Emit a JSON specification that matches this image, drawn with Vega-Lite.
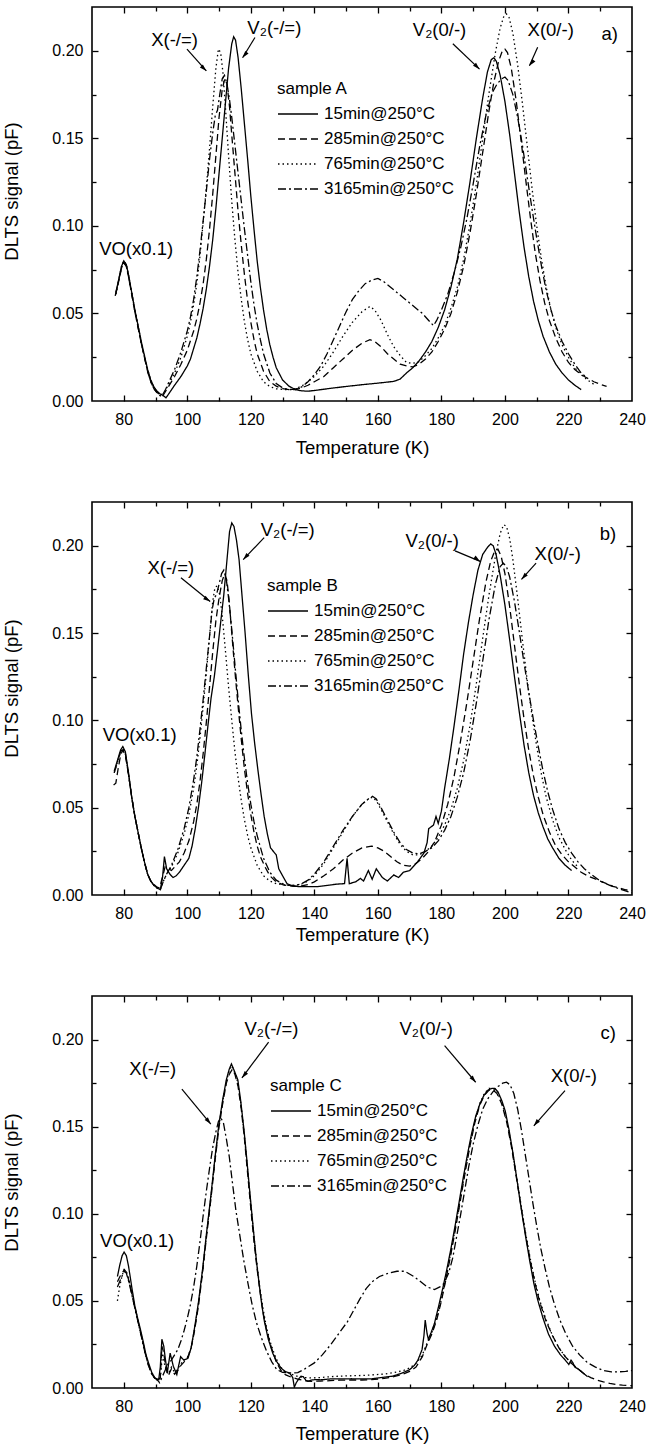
{
"$schema":"https://vega.github.io/schema/vega-lite/v6.json",
"padding":{"left":1,"top":5,"right":0,"bottom":0},
"background":"white",
"bounds":"flush",
"spacing":101,
"datasets":{
"A":[
{"s":"15min@250°C","T":77.5,"S":0.062},{"s":"15min@250°C","T":78.5,"S":0.070},{"s":"15min@250°C","T":79.3,"S":0.077},{"s":"15min@250°C","T":80,"S":0.080},{"s":"15min@250°C","T":80.8,"S":0.078},{"s":"15min@250°C","T":81.5,"S":0.072},{"s":"15min@250°C","T":82.5,"S":0.062},{"s":"15min@250°C","T":83.5,"S":0.052},{"s":"15min@250°C","T":84.5,"S":0.043},{"s":"15min@250°C","T":85.5,"S":0.034},{"s":"15min@250°C","T":86.5,"S":0.026},{"s":"15min@250°C","T":87.5,"S":0.018},{"s":"15min@250°C","T":88.5,"S":0.012},{"s":"15min@250°C","T":89.5,"S":0.008},{"s":"15min@250°C","T":90.5,"S":0.0055},{"s":"15min@250°C","T":91.5,"S":0.004},{"s":"15min@250°C","T":92.5,"S":0.003},{"s":"15min@250°C","T":93.3,"S":0.0018},{"s":"15min@250°C","T":94.5,"S":0.005},{"s":"15min@250°C","T":96,"S":0.009},{"s":"15min@250°C","T":98,"S":0.014},{"s":"15min@250°C","T":100,"S":0.020},{"s":"15min@250°C","T":101,"S":0.024},{"s":"15min@250°C","T":102,"S":0.030},{"s":"15min@250°C","T":103,"S":0.036},{"s":"15min@250°C","T":104,"S":0.044},{"s":"15min@250°C","T":105,"S":0.053},{"s":"15min@250°C","T":106,"S":0.064},{"s":"15min@250°C","T":107,"S":0.077},{"s":"15min@250°C","T":108,"S":0.092},{"s":"15min@250°C","T":109,"S":0.110},{"s":"15min@250°C","T":110,"S":0.130},{"s":"15min@250°C","T":111,"S":0.150},{"s":"15min@250°C","T":112,"S":0.170},{"s":"15min@250°C","T":113,"S":0.190},{"s":"15min@250°C","T":114,"S":0.204},{"s":"15min@250°C","T":114.6,"S":0.208},{"s":"15min@250°C","T":115.2,"S":0.206},{"s":"15min@250°C","T":116,"S":0.196},{"s":"15min@250°C","T":117,"S":0.178},{"s":"15min@250°C","T":118,"S":0.158},{"s":"15min@250°C","T":119,"S":0.138},{"s":"15min@250°C","T":120,"S":0.117},{"s":"15min@250°C","T":121,"S":0.098},{"s":"15min@250°C","T":122,"S":0.080},{"s":"15min@250°C","T":123,"S":0.065},{"s":"15min@250°C","T":124,"S":0.052},{"s":"15min@250°C","T":125,"S":0.041},{"s":"15min@250°C","T":126,"S":0.032},{"s":"15min@250°C","T":127,"S":0.025},{"s":"15min@250°C","T":128,"S":0.019},{"s":"15min@250°C","T":130,"S":0.012},{"s":"15min@250°C","T":132,"S":0.0085},{"s":"15min@250°C","T":134,"S":0.0065},{"s":"15min@250°C","T":136,"S":0.0058},{"s":"15min@250°C","T":138,"S":0.0056},{"s":"15min@250°C","T":140,"S":0.006},{"s":"15min@250°C","T":145,"S":0.0072},{"s":"15min@250°C","T":150,"S":0.0083},{"s":"15min@250°C","T":155,"S":0.0093},{"s":"15min@250°C","T":160,"S":0.0102},{"s":"15min@250°C","T":165,"S":0.0112},{"s":"15min@250°C","T":167,"S":0.0125},{"s":"15min@250°C","T":169,"S":0.016},{"s":"15min@250°C","T":171,"S":0.019},{"s":"15min@250°C","T":173,"S":0.023},{"s":"15min@250°C","T":175,"S":0.028},{"s":"15min@250°C","T":177,"S":0.034},{"s":"15min@250°C","T":179,"S":0.042},{"s":"15min@250°C","T":181,"S":0.052},{"s":"15min@250°C","T":183,"S":0.065},{"s":"15min@250°C","T":185,"S":0.081},{"s":"15min@250°C","T":187,"S":0.102},{"s":"15min@250°C","T":189,"S":0.125},{"s":"15min@250°C","T":191,"S":0.150},{"s":"15min@250°C","T":193,"S":0.173},{"s":"15min@250°C","T":194.5,"S":0.188},{"s":"15min@250°C","T":195.7,"S":0.195},{"s":"15min@250°C","T":196.5,"S":0.196},{"s":"15min@250°C","T":197.3,"S":0.194},{"s":"15min@250°C","T":198.5,"S":0.186},{"s":"15min@250°C","T":200,"S":0.171},{"s":"15min@250°C","T":201.5,"S":0.152},{"s":"15min@250°C","T":203,"S":0.130},{"s":"15min@250°C","T":204.5,"S":0.108},{"s":"15min@250°C","T":206,"S":0.088},{"s":"15min@250°C","T":207.5,"S":0.071},{"s":"15min@250°C","T":209,"S":0.057},{"s":"15min@250°C","T":210.5,"S":0.046},{"s":"15min@250°C","T":212,"S":0.037},{"s":"15min@250°C","T":214,"S":0.028},{"s":"15min@250°C","T":216,"S":0.021},{"s":"15min@250°C","T":218,"S":0.016},{"s":"15min@250°C","T":220,"S":0.012},{"s":"15min@250°C","T":222,"S":0.009},{"s":"15min@250°C","T":224,"S":0.0065},
{"s":"285min@250°C","T":77.3,"S":0.060},{"s":"285min@250°C","T":78.5,"S":0.069},{"s":"285min@250°C","T":79.3,"S":0.076},{"s":"285min@250°C","T":80,"S":0.079},{"s":"285min@250°C","T":80.8,"S":0.077},{"s":"285min@250°C","T":81.5,"S":0.071},{"s":"285min@250°C","T":82.5,"S":0.061},{"s":"285min@250°C","T":83.5,"S":0.051},{"s":"285min@250°C","T":84.5,"S":0.042},{"s":"285min@250°C","T":85.5,"S":0.033},{"s":"285min@250°C","T":86.5,"S":0.025},{"s":"285min@250°C","T":87.5,"S":0.017},{"s":"285min@250°C","T":88.5,"S":0.011},{"s":"285min@250°C","T":89.5,"S":0.007},{"s":"285min@250°C","T":90.5,"S":0.0048},{"s":"285min@250°C","T":91.5,"S":0.0035},{"s":"285min@250°C","T":92.3,"S":0.003},{"s":"285min@250°C","T":93,"S":0.005},{"s":"285min@250°C","T":94,"S":0.008},{"s":"285min@250°C","T":96,"S":0.014},{"s":"285min@250°C","T":98,"S":0.021},{"s":"285min@250°C","T":100,"S":0.029},{"s":"285min@250°C","T":102,"S":0.040},{"s":"285min@250°C","T":103,"S":0.047},{"s":"285min@250°C","T":104,"S":0.056},{"s":"285min@250°C","T":105,"S":0.067},{"s":"285min@250°C","T":106,"S":0.081},{"s":"285min@250°C","T":107,"S":0.098},{"s":"285min@250°C","T":108,"S":0.118},{"s":"285min@250°C","T":109,"S":0.140},{"s":"285min@250°C","T":110,"S":0.162},{"s":"285min@250°C","T":111,"S":0.178},{"s":"285min@250°C","T":111.8,"S":0.184},{"s":"285min@250°C","T":112.5,"S":0.181},{"s":"285min@250°C","T":113.3,"S":0.168},{"s":"285min@250°C","T":114,"S":0.152},{"s":"285min@250°C","T":115,"S":0.130},{"s":"285min@250°C","T":116,"S":0.108},{"s":"285min@250°C","T":117,"S":0.089},{"s":"285min@250°C","T":118,"S":0.072},{"s":"285min@250°C","T":119,"S":0.057},{"s":"285min@250°C","T":120,"S":0.045},{"s":"285min@250°C","T":121,"S":0.035},{"s":"285min@250°C","T":122,"S":0.027},{"s":"285min@250°C","T":124,"S":0.017},{"s":"285min@250°C","T":126,"S":0.011},{"s":"285min@250°C","T":128,"S":0.0085},{"s":"285min@250°C","T":130,"S":0.007},{"s":"285min@250°C","T":132,"S":0.0065},{"s":"285min@250°C","T":134,"S":0.0065},{"s":"285min@250°C","T":136,"S":0.0075},{"s":"285min@250°C","T":138,"S":0.009},{"s":"285min@250°C","T":140,"S":0.011},{"s":"285min@250°C","T":143,"S":0.014},{"s":"285min@250°C","T":146,"S":0.019},{"s":"285min@250°C","T":149,"S":0.024},{"s":"285min@250°C","T":152,"S":0.029},{"s":"285min@250°C","T":155,"S":0.033},{"s":"285min@250°C","T":157.5,"S":0.035},{"s":"285min@250°C","T":159,"S":0.034},{"s":"285min@250°C","T":161,"S":0.031},{"s":"285min@250°C","T":163,"S":0.027},{"s":"285min@250°C","T":165,"S":0.024},{"s":"285min@250°C","T":167,"S":0.021},{"s":"285min@250°C","T":169,"S":0.020},{"s":"285min@250°C","T":171,"S":0.0195},{"s":"285min@250°C","T":173,"S":0.021},{"s":"285min@250°C","T":175,"S":0.024},{"s":"285min@250°C","T":177,"S":0.028},{"s":"285min@250°C","T":179,"S":0.034},{"s":"285min@250°C","T":181,"S":0.041},{"s":"285min@250°C","T":183,"S":0.050},{"s":"285min@250°C","T":185,"S":0.062},{"s":"285min@250°C","T":187,"S":0.077},{"s":"285min@250°C","T":189,"S":0.096},{"s":"285min@250°C","T":191,"S":0.118},{"s":"285min@250°C","T":193,"S":0.142},{"s":"285min@250°C","T":195,"S":0.166},{"s":"285min@250°C","T":196.5,"S":0.182},{"s":"285min@250°C","T":198,"S":0.194},{"s":"285min@250°C","T":199.2,"S":0.200},{"s":"285min@250°C","T":200,"S":0.201},{"s":"285min@250°C","T":200.8,"S":0.199},{"s":"285min@250°C","T":202,"S":0.190},{"s":"285min@250°C","T":203.5,"S":0.172},{"s":"285min@250°C","T":205,"S":0.150},{"s":"285min@250°C","T":206.5,"S":0.127},{"s":"285min@250°C","T":208,"S":0.105},{"s":"285min@250°C","T":209.5,"S":0.085},{"s":"285min@250°C","T":211,"S":0.069},{"s":"285min@250°C","T":212.5,"S":0.056},{"s":"285min@250°C","T":214,"S":0.046},{"s":"285min@250°C","T":216,"S":0.036},{"s":"285min@250°C","T":218,"S":0.028},{"s":"285min@250°C","T":220,"S":0.022},{"s":"285min@250°C","T":222,"S":0.018},{"s":"285min@250°C","T":224,"S":0.015},{"s":"285min@250°C","T":226,"S":0.013},{"s":"285min@250°C","T":228,"S":0.011},{"s":"285min@250°C","T":230,"S":0.0095},{"s":"285min@250°C","T":232,"S":0.0083},
{"s":"765min@250°C","T":77.5,"S":0.061},{"s":"765min@250°C","T":78.5,"S":0.070},{"s":"765min@250°C","T":79.3,"S":0.077},{"s":"765min@250°C","T":80,"S":0.080},{"s":"765min@250°C","T":80.8,"S":0.078},{"s":"765min@250°C","T":81.5,"S":0.072},{"s":"765min@250°C","T":82.5,"S":0.062},{"s":"765min@250°C","T":83.5,"S":0.052},{"s":"765min@250°C","T":84.5,"S":0.043},{"s":"765min@250°C","T":85.5,"S":0.034},{"s":"765min@250°C","T":86.5,"S":0.026},{"s":"765min@250°C","T":87.5,"S":0.018},{"s":"765min@250°C","T":88.5,"S":0.012},{"s":"765min@250°C","T":89.5,"S":0.008},{"s":"765min@250°C","T":90.5,"S":0.0055},{"s":"765min@250°C","T":91.5,"S":0.0035},{"s":"765min@250°C","T":92.3,"S":0.004},{"s":"765min@250°C","T":93,"S":0.006},{"s":"765min@250°C","T":94,"S":0.009},{"s":"765min@250°C","T":96,"S":0.016},{"s":"765min@250°C","T":98,"S":0.025},{"s":"765min@250°C","T":100,"S":0.037},{"s":"765min@250°C","T":101,"S":0.045},{"s":"765min@250°C","T":102,"S":0.055},{"s":"765min@250°C","T":103,"S":0.067},{"s":"765min@250°C","T":104,"S":0.083},{"s":"765min@250°C","T":105,"S":0.102},{"s":"765min@250°C","T":106,"S":0.122},{"s":"765min@250°C","T":107,"S":0.144},{"s":"765min@250°C","T":108,"S":0.168},{"s":"765min@250°C","T":109,"S":0.190},{"s":"765min@250°C","T":109.8,"S":0.201},{"s":"765min@250°C","T":110.5,"S":0.199},{"s":"765min@250°C","T":111.2,"S":0.188},{"s":"765min@250°C","T":112,"S":0.168},{"s":"765min@250°C","T":113,"S":0.140},{"s":"765min@250°C","T":114,"S":0.114},{"s":"765min@250°C","T":115,"S":0.092},{"s":"765min@250°C","T":116,"S":0.073},{"s":"765min@250°C","T":117,"S":0.058},{"s":"765min@250°C","T":118,"S":0.045},{"s":"765min@250°C","T":119,"S":0.035},{"s":"765min@250°C","T":120,"S":0.027},{"s":"765min@250°C","T":122,"S":0.017},{"s":"765min@250°C","T":124,"S":0.011},{"s":"765min@250°C","T":126,"S":0.0082},{"s":"765min@250°C","T":128,"S":0.007},{"s":"765min@250°C","T":130,"S":0.0066},{"s":"765min@250°C","T":132,"S":0.0065},{"s":"765min@250°C","T":134,"S":0.007},{"s":"765min@250°C","T":136,"S":0.0085},{"s":"765min@250°C","T":138,"S":0.011},{"s":"765min@250°C","T":140,"S":0.014},{"s":"765min@250°C","T":143,"S":0.020},{"s":"765min@250°C","T":146,"S":0.028},{"s":"765min@250°C","T":149,"S":0.037},{"s":"765min@250°C","T":152,"S":0.045},{"s":"765min@250°C","T":155,"S":0.051},{"s":"765min@250°C","T":157.5,"S":0.054},{"s":"765min@250°C","T":159,"S":0.052},{"s":"765min@250°C","T":161,"S":0.046},{"s":"765min@250°C","T":163,"S":0.038},{"s":"765min@250°C","T":165,"S":0.031},{"s":"765min@250°C","T":167,"S":0.026},{"s":"765min@250°C","T":169,"S":0.022},{"s":"765min@250°C","T":171,"S":0.0215},{"s":"765min@250°C","T":173,"S":0.0225},{"s":"765min@250°C","T":175,"S":0.026},{"s":"765min@250°C","T":177,"S":0.030},{"s":"765min@250°C","T":179,"S":0.036},{"s":"765min@250°C","T":181,"S":0.043},{"s":"765min@250°C","T":183,"S":0.053},{"s":"765min@250°C","T":185,"S":0.065},{"s":"765min@250°C","T":187,"S":0.081},{"s":"765min@250°C","T":189,"S":0.101},{"s":"765min@250°C","T":191,"S":0.124},{"s":"765min@250°C","T":193,"S":0.150},{"s":"765min@250°C","T":195,"S":0.176},{"s":"765min@250°C","T":197,"S":0.199},{"s":"765min@250°C","T":198.5,"S":0.213},{"s":"765min@250°C","T":199.7,"S":0.220},{"s":"765min@250°C","T":200.5,"S":0.221},{"s":"765min@250°C","T":201.3,"S":0.219},{"s":"765min@250°C","T":202.5,"S":0.210},{"s":"765min@250°C","T":204,"S":0.192},{"s":"765min@250°C","T":205.5,"S":0.170},{"s":"765min@250°C","T":207,"S":0.146},{"s":"765min@250°C","T":208.5,"S":0.122},{"s":"765min@250°C","T":210,"S":0.100},{"s":"765min@250°C","T":211.5,"S":0.081},{"s":"765min@250°C","T":213,"S":0.065},{"s":"765min@250°C","T":214.5,"S":0.052},{"s":"765min@250°C","T":216,"S":0.042},{"s":"765min@250°C","T":218,"S":0.032},{"s":"765min@250°C","T":220,"S":0.025},{"s":"765min@250°C","T":222,"S":0.019},{"s":"765min@250°C","T":224,"S":0.015},{"s":"765min@250°C","T":226,"S":0.012},{"s":"765min@250°C","T":228,"S":0.0095},
{"s":"3165min@250°C","T":77.5,"S":0.061},{"s":"3165min@250°C","T":78.5,"S":0.070},{"s":"3165min@250°C","T":79.3,"S":0.076},{"s":"3165min@250°C","T":80,"S":0.079},{"s":"3165min@250°C","T":80.8,"S":0.077},{"s":"3165min@250°C","T":81.5,"S":0.071},{"s":"3165min@250°C","T":82.5,"S":0.061},{"s":"3165min@250°C","T":83.5,"S":0.051},{"s":"3165min@250°C","T":84.5,"S":0.042},{"s":"3165min@250°C","T":85.5,"S":0.033},{"s":"3165min@250°C","T":86.5,"S":0.025},{"s":"3165min@250°C","T":87.5,"S":0.017},{"s":"3165min@250°C","T":88.5,"S":0.011},{"s":"3165min@250°C","T":89.5,"S":0.007},{"s":"3165min@250°C","T":90.5,"S":0.0045},{"s":"3165min@250°C","T":91.5,"S":0.003},{"s":"3165min@250°C","T":92,"S":0.003},{"s":"3165min@250°C","T":93,"S":0.006},{"s":"3165min@250°C","T":94,"S":0.010},{"s":"3165min@250°C","T":96,"S":0.018},{"s":"3165min@250°C","T":98,"S":0.028},{"s":"3165min@250°C","T":100,"S":0.040},{"s":"3165min@250°C","T":101,"S":0.048},{"s":"3165min@250°C","T":102,"S":0.058},{"s":"3165min@250°C","T":103,"S":0.071},{"s":"3165min@250°C","T":104,"S":0.086},{"s":"3165min@250°C","T":105,"S":0.103},{"s":"3165min@250°C","T":106,"S":0.120},{"s":"3165min@250°C","T":107,"S":0.138},{"s":"3165min@250°C","T":108,"S":0.153},{"s":"3165min@250°C","T":108.8,"S":0.163},{"s":"3165min@250°C","T":109.5,"S":0.166},{"s":"3165min@250°C","T":110.3,"S":0.176},{"s":"3165min@250°C","T":111,"S":0.184},{"s":"3165min@250°C","T":111.7,"S":0.186},{"s":"3165min@250°C","T":112.5,"S":0.181},{"s":"3165min@250°C","T":113.3,"S":0.172},{"s":"3165min@250°C","T":114,"S":0.162},{"s":"3165min@250°C","T":115,"S":0.146},{"s":"3165min@250°C","T":116,"S":0.130},{"s":"3165min@250°C","T":117,"S":0.114},{"s":"3165min@250°C","T":118,"S":0.098},{"s":"3165min@250°C","T":119,"S":0.083},{"s":"3165min@250°C","T":120,"S":0.068},{"s":"3165min@250°C","T":121,"S":0.055},{"s":"3165min@250°C","T":122,"S":0.044},{"s":"3165min@250°C","T":123,"S":0.035},{"s":"3165min@250°C","T":124,"S":0.027},{"s":"3165min@250°C","T":126,"S":0.016},{"s":"3165min@250°C","T":128,"S":0.010},{"s":"3165min@250°C","T":130,"S":0.0075},{"s":"3165min@250°C","T":132,"S":0.0065},{"s":"3165min@250°C","T":134,"S":0.0068},{"s":"3165min@250°C","T":136,"S":0.008},{"s":"3165min@250°C","T":138,"S":0.011},{"s":"3165min@250°C","T":140,"S":0.015},{"s":"3165min@250°C","T":142,"S":0.020},{"s":"3165min@250°C","T":144,"S":0.027},{"s":"3165min@250°C","T":146,"S":0.035},{"s":"3165min@250°C","T":148,"S":0.043},{"s":"3165min@250°C","T":150,"S":0.051},{"s":"3165min@250°C","T":152,"S":0.058},{"s":"3165min@250°C","T":154,"S":0.063},{"s":"3165min@250°C","T":156,"S":0.067},{"s":"3165min@250°C","T":158,"S":0.069},{"s":"3165min@250°C","T":160,"S":0.070},{"s":"3165min@250°C","T":162,"S":0.068},{"s":"3165min@250°C","T":164,"S":0.065},{"s":"3165min@250°C","T":166,"S":0.062},{"s":"3165min@250°C","T":168,"S":0.059},{"s":"3165min@250°C","T":170,"S":0.056},{"s":"3165min@250°C","T":172,"S":0.053},{"s":"3165min@250°C","T":174,"S":0.050},{"s":"3165min@250°C","T":176,"S":0.046},{"s":"3165min@250°C","T":177.5,"S":0.043},{"s":"3165min@250°C","T":178.5,"S":0.046},{"s":"3165min@250°C","T":180,"S":0.052},{"s":"3165min@250°C","T":182,"S":0.061},{"s":"3165min@250°C","T":184,"S":0.073},{"s":"3165min@250°C","T":186,"S":0.087},{"s":"3165min@250°C","T":188,"S":0.104},{"s":"3165min@250°C","T":190,"S":0.124},{"s":"3165min@250°C","T":192,"S":0.145},{"s":"3165min@250°C","T":194,"S":0.163},{"s":"3165min@250°C","T":196,"S":0.176},{"s":"3165min@250°C","T":197.5,"S":0.181},{"s":"3165min@250°C","T":199,"S":0.184},{"s":"3165min@250°C","T":200,"S":0.185},{"s":"3165min@250°C","T":201,"S":0.183},{"s":"3165min@250°C","T":202.5,"S":0.175},{"s":"3165min@250°C","T":204,"S":0.162},{"s":"3165min@250°C","T":205.5,"S":0.146},{"s":"3165min@250°C","T":207,"S":0.128},{"s":"3165min@250°C","T":208.5,"S":0.110},{"s":"3165min@250°C","T":210,"S":0.093},{"s":"3165min@250°C","T":211.5,"S":0.077},{"s":"3165min@250°C","T":213,"S":0.063},{"s":"3165min@250°C","T":214.5,"S":0.052},{"s":"3165min@250°C","T":216,"S":0.043},{"s":"3165min@250°C","T":218,"S":0.034},{"s":"3165min@250°C","T":220,"S":0.027},{"s":"3165min@250°C","T":222,"S":0.021},{"s":"3165min@250°C","T":224,"S":0.016},{"s":"3165min@250°C","T":226,"S":0.013}
],
"B":[
{"s":"15min@250°C","T":77,"S":0.071},{"s":"15min@250°C","T":78,"S":0.077},{"s":"15min@250°C","T":79,"S":0.083},{"s":"15min@250°C","T":79.7,"S":0.085},{"s":"15min@250°C","T":80.5,"S":0.082},{"s":"15min@250°C","T":81.5,"S":0.070},{"s":"15min@250°C","T":82.5,"S":0.056},{"s":"15min@250°C","T":83.5,"S":0.045},{"s":"15min@250°C","T":84.5,"S":0.036},{"s":"15min@250°C","T":85.5,"S":0.027},{"s":"15min@250°C","T":86.5,"S":0.019},{"s":"15min@250°C","T":87.5,"S":0.012},{"s":"15min@250°C","T":88.5,"S":0.008},{"s":"15min@250°C","T":89.5,"S":0.0055},{"s":"15min@250°C","T":90.5,"S":0.004},{"s":"15min@250°C","T":91.5,"S":0.003},{"s":"15min@250°C","T":92.2,"S":0.010},{"s":"15min@250°C","T":92.8,"S":0.022},{"s":"15min@250°C","T":93.5,"S":0.015},{"s":"15min@250°C","T":94.5,"S":0.012},{"s":"15min@250°C","T":95.5,"S":0.010},{"s":"15min@250°C","T":96.5,"S":0.011},{"s":"15min@250°C","T":97.5,"S":0.013},{"s":"15min@250°C","T":99,"S":0.017},{"s":"15min@250°C","T":100.5,"S":0.021},{"s":"15min@250°C","T":101.5,"S":0.028},{"s":"15min@250°C","T":102.5,"S":0.038},{"s":"15min@250°C","T":103.5,"S":0.050},{"s":"15min@250°C","T":104.5,"S":0.064},{"s":"15min@250°C","T":105.5,"S":0.080},{"s":"15min@250°C","T":106.5,"S":0.097},{"s":"15min@250°C","T":107.5,"S":0.113},{"s":"15min@250°C","T":108.5,"S":0.125},{"s":"15min@250°C","T":109.5,"S":0.140},{"s":"15min@250°C","T":110.5,"S":0.156},{"s":"15min@250°C","T":111.5,"S":0.172},{"s":"15min@250°C","T":112.5,"S":0.192},{"s":"15min@250°C","T":113.3,"S":0.208},{"s":"15min@250°C","T":114,"S":0.213},{"s":"15min@250°C","T":114.7,"S":0.211},{"s":"15min@250°C","T":115.5,"S":0.203},{"s":"15min@250°C","T":116.3,"S":0.192},{"s":"15min@250°C","T":117.2,"S":0.172},{"s":"15min@250°C","T":118.2,"S":0.150},{"s":"15min@250°C","T":119.2,"S":0.126},{"s":"15min@250°C","T":120.2,"S":0.104},{"s":"15min@250°C","T":121.2,"S":0.087},{"s":"15min@250°C","T":122.2,"S":0.072},{"s":"15min@250°C","T":123.2,"S":0.058},{"s":"15min@250°C","T":124.2,"S":0.045},{"s":"15min@250°C","T":125.2,"S":0.035},{"s":"15min@250°C","T":126.2,"S":0.027},{"s":"15min@250°C","T":127.3,"S":0.0245},{"s":"15min@250°C","T":128,"S":0.023},{"s":"15min@250°C","T":128.8,"S":0.015},{"s":"15min@250°C","T":130,"S":0.011},{"s":"15min@250°C","T":131.4,"S":0.0065},{"s":"15min@250°C","T":133,"S":0.0052},{"s":"15min@250°C","T":135,"S":0.0048},{"s":"15min@250°C","T":138,"S":0.0048},{"s":"15min@250°C","T":141,"S":0.0048},{"s":"15min@250°C","T":144,"S":0.0055},{"s":"15min@250°C","T":147,"S":0.0062},{"s":"15min@250°C","T":149.5,"S":0.0065},{"s":"15min@250°C","T":150.3,"S":0.021},{"s":"15min@250°C","T":151,"S":0.0065},{"s":"15min@250°C","T":153,"S":0.0075},{"s":"15min@250°C","T":154.5,"S":0.0095},{"s":"15min@250°C","T":155.5,"S":0.008},{"s":"15min@250°C","T":157,"S":0.014},{"s":"15min@250°C","T":158.2,"S":0.009},{"s":"15min@250°C","T":159.5,"S":0.015},{"s":"15min@250°C","T":161.4,"S":0.010},{"s":"15min@250°C","T":163,"S":0.008},{"s":"15min@250°C","T":165,"S":0.0115},{"s":"15min@250°C","T":166.5,"S":0.010},{"s":"15min@250°C","T":168,"S":0.013},{"s":"15min@250°C","T":170,"S":0.014},{"s":"15min@250°C","T":172.5,"S":0.019},{"s":"15min@250°C","T":174.5,"S":0.024},{"s":"15min@250°C","T":175.5,"S":0.030},{"s":"15min@250°C","T":176,"S":0.038},{"s":"15min@250°C","T":177.5,"S":0.040},{"s":"15min@250°C","T":178.3,"S":0.045},{"s":"15min@250°C","T":179,"S":0.041},{"s":"15min@250°C","T":180,"S":0.048},{"s":"15min@250°C","T":181,"S":0.061},{"s":"15min@250°C","T":182.5,"S":0.078},{"s":"15min@250°C","T":184,"S":0.097},{"s":"15min@250°C","T":185.5,"S":0.117},{"s":"15min@250°C","T":187,"S":0.138},{"s":"15min@250°C","T":188.5,"S":0.156},{"s":"15min@250°C","T":190,"S":0.172},{"s":"15min@250°C","T":191.5,"S":0.186},{"s":"15min@250°C","T":193,"S":0.195},{"s":"15min@250°C","T":194.5,"S":0.199},{"s":"15min@250°C","T":195.5,"S":0.201},{"s":"15min@250°C","T":196.3,"S":0.200},{"s":"15min@250°C","T":197.2,"S":0.195},{"s":"15min@250°C","T":198.5,"S":0.183},{"s":"15min@250°C","T":200,"S":0.166},{"s":"15min@250°C","T":201.5,"S":0.146},{"s":"15min@250°C","T":203,"S":0.125},{"s":"15min@250°C","T":204.5,"S":0.105},{"s":"15min@250°C","T":206,"S":0.086},{"s":"15min@250°C","T":207.5,"S":0.070},{"s":"15min@250°C","T":209,"S":0.057},{"s":"15min@250°C","T":210.5,"S":0.047},{"s":"15min@250°C","T":212,"S":0.039},{"s":"15min@250°C","T":213.5,"S":0.032},{"s":"15min@250°C","T":215,"S":0.027},{"s":"15min@250°C","T":217,"S":0.021},{"s":"15min@250°C","T":219,"S":0.017},{"s":"15min@250°C","T":221,"S":0.014},
{"s":"285min@250°C","T":76.8,"S":0.063},{"s":"285min@250°C","T":77.5,"S":0.064},{"s":"285min@250°C","T":78.2,"S":0.072},{"s":"285min@250°C","T":79,"S":0.080},{"s":"285min@250°C","T":79.7,"S":0.083},{"s":"285min@250°C","T":80.5,"S":0.080},{"s":"285min@250°C","T":81.5,"S":0.069},{"s":"285min@250°C","T":82.5,"S":0.056},{"s":"285min@250°C","T":83.5,"S":0.045},{"s":"285min@250°C","T":84.5,"S":0.036},{"s":"285min@250°C","T":85.5,"S":0.027},{"s":"285min@250°C","T":86.5,"S":0.019},{"s":"285min@250°C","T":87.5,"S":0.012},{"s":"285min@250°C","T":88.5,"S":0.008},{"s":"285min@250°C","T":89.5,"S":0.006},{"s":"285min@250°C","T":90.5,"S":0.0045},{"s":"285min@250°C","T":91.3,"S":0.004},{"s":"285min@250°C","T":92,"S":0.009},{"s":"285min@250°C","T":93,"S":0.016},{"s":"285min@250°C","T":94,"S":0.015},{"s":"285min@250°C","T":95,"S":0.014},{"s":"285min@250°C","T":96,"S":0.016},{"s":"285min@250°C","T":97.5,"S":0.019},{"s":"285min@250°C","T":99,"S":0.024},{"s":"285min@250°C","T":100.5,"S":0.031},{"s":"285min@250°C","T":102,"S":0.042},{"s":"285min@250°C","T":103,"S":0.052},{"s":"285min@250°C","T":104,"S":0.065},{"s":"285min@250°C","T":105,"S":0.081},{"s":"285min@250°C","T":106,"S":0.099},{"s":"285min@250°C","T":107,"S":0.119},{"s":"285min@250°C","T":108,"S":0.139},{"s":"285min@250°C","T":109,"S":0.157},{"s":"285min@250°C","T":110,"S":0.170},{"s":"285min@250°C","T":111,"S":0.180},{"s":"285min@250°C","T":111.8,"S":0.184},{"s":"285min@250°C","T":112.5,"S":0.180},{"s":"285min@250°C","T":113.2,"S":0.168},{"s":"285min@250°C","T":114,"S":0.150},{"s":"285min@250°C","T":115,"S":0.128},{"s":"285min@250°C","T":116,"S":0.108},{"s":"285min@250°C","T":117,"S":0.089},{"s":"285min@250°C","T":118,"S":0.072},{"s":"285min@250°C","T":119,"S":0.058},{"s":"285min@250°C","T":120,"S":0.046},{"s":"285min@250°C","T":121,"S":0.036},{"s":"285min@250°C","T":122,"S":0.028},{"s":"285min@250°C","T":123,"S":0.022},{"s":"285min@250°C","T":124.5,"S":0.016},{"s":"285min@250°C","T":126,"S":0.011},{"s":"285min@250°C","T":128,"S":0.0075},{"s":"285min@250°C","T":130,"S":0.006},{"s":"285min@250°C","T":132,"S":0.0052},{"s":"285min@250°C","T":134,"S":0.005},{"s":"285min@250°C","T":136,"S":0.0052},{"s":"285min@250°C","T":138,"S":0.006},{"s":"285min@250°C","T":140,"S":0.0075},{"s":"285min@250°C","T":143,"S":0.011},{"s":"285min@250°C","T":146,"S":0.015},{"s":"285min@250°C","T":149,"S":0.020},{"s":"285min@250°C","T":152,"S":0.024},{"s":"285min@250°C","T":155,"S":0.027},{"s":"285min@250°C","T":158,"S":0.028},{"s":"285min@250°C","T":160,"S":0.027},{"s":"285min@250°C","T":162,"S":0.025},{"s":"285min@250°C","T":164,"S":0.022},{"s":"285min@250°C","T":166,"S":0.019},{"s":"285min@250°C","T":168,"S":0.017},{"s":"285min@250°C","T":170,"S":0.0165},{"s":"285min@250°C","T":172,"S":0.018},{"s":"285min@250°C","T":174,"S":0.021},{"s":"285min@250°C","T":176,"S":0.025},{"s":"285min@250°C","T":178,"S":0.031},{"s":"285min@250°C","T":180,"S":0.040},{"s":"285min@250°C","T":182,"S":0.052},{"s":"285min@250°C","T":184,"S":0.068},{"s":"285min@250°C","T":186,"S":0.088},{"s":"285min@250°C","T":188,"S":0.110},{"s":"285min@250°C","T":190,"S":0.134},{"s":"285min@250°C","T":192,"S":0.158},{"s":"285min@250°C","T":194,"S":0.179},{"s":"285min@250°C","T":195.5,"S":0.191},{"s":"285min@250°C","T":196.8,"S":0.197},{"s":"285min@250°C","T":197.8,"S":0.198},{"s":"285min@250°C","T":198.8,"S":0.194},{"s":"285min@250°C","T":200,"S":0.184},{"s":"285min@250°C","T":201.5,"S":0.165},{"s":"285min@250°C","T":203,"S":0.143},{"s":"285min@250°C","T":204.5,"S":0.121},{"s":"285min@250°C","T":206,"S":0.101},{"s":"285min@250°C","T":207.5,"S":0.083},{"s":"285min@250°C","T":209,"S":0.068},{"s":"285min@250°C","T":210.5,"S":0.056},{"s":"285min@250°C","T":212,"S":0.046},{"s":"285min@250°C","T":214,"S":0.036},{"s":"285min@250°C","T":216,"S":0.028},{"s":"285min@250°C","T":218,"S":0.023},{"s":"285min@250°C","T":220,"S":0.019},{"s":"285min@250°C","T":222,"S":0.016},{"s":"285min@250°C","T":224,"S":0.013},{"s":"285min@250°C","T":226,"S":0.011},{"s":"285min@250°C","T":228,"S":0.0095},{"s":"285min@250°C","T":230,"S":0.008},{"s":"285min@250°C","T":232,"S":0.0065},{"s":"285min@250°C","T":234,"S":0.005},{"s":"285min@250°C","T":236,"S":0.004},{"s":"285min@250°C","T":238,"S":0.003},{"s":"285min@250°C","T":240,"S":0.0025},
{"s":"765min@250°C","T":77,"S":0.070},{"s":"765min@250°C","T":78,"S":0.076},{"s":"765min@250°C","T":79,"S":0.082},{"s":"765min@250°C","T":79.7,"S":0.084},{"s":"765min@250°C","T":80.5,"S":0.081},{"s":"765min@250°C","T":81.5,"S":0.069},{"s":"765min@250°C","T":82.5,"S":0.056},{"s":"765min@250°C","T":83.5,"S":0.045},{"s":"765min@250°C","T":84.5,"S":0.036},{"s":"765min@250°C","T":85.5,"S":0.027},{"s":"765min@250°C","T":86.5,"S":0.019},{"s":"765min@250°C","T":87.5,"S":0.012},{"s":"765min@250°C","T":88.5,"S":0.008},{"s":"765min@250°C","T":89.5,"S":0.0055},{"s":"765min@250°C","T":90.5,"S":0.004},{"s":"765min@250°C","T":91.5,"S":0.003},{"s":"765min@250°C","T":92.5,"S":0.008},{"s":"765min@250°C","T":93.5,"S":0.012},{"s":"765min@250°C","T":95,"S":0.016},{"s":"765min@250°C","T":97,"S":0.024},{"s":"765min@250°C","T":99,"S":0.035},{"s":"765min@250°C","T":100.5,"S":0.046},{"s":"765min@250°C","T":102,"S":0.061},{"s":"765min@250°C","T":103,"S":0.074},{"s":"765min@250°C","T":104,"S":0.090},{"s":"765min@250°C","T":105,"S":0.108},{"s":"765min@250°C","T":106,"S":0.127},{"s":"765min@250°C","T":107,"S":0.148},{"s":"765min@250°C","T":108,"S":0.168},{"s":"765min@250°C","T":108.7,"S":0.176},{"s":"765min@250°C","T":109.4,"S":0.177},{"s":"765min@250°C","T":110.2,"S":0.172},{"s":"765min@250°C","T":111,"S":0.160},{"s":"765min@250°C","T":112,"S":0.140},{"s":"765min@250°C","T":113,"S":0.119},{"s":"765min@250°C","T":114,"S":0.100},{"s":"765min@250°C","T":115,"S":0.082},{"s":"765min@250°C","T":116,"S":0.067},{"s":"765min@250°C","T":117,"S":0.054},{"s":"765min@250°C","T":118,"S":0.043},{"s":"765min@250°C","T":119,"S":0.034},{"s":"765min@250°C","T":120,"S":0.027},{"s":"765min@250°C","T":122,"S":0.017},{"s":"765min@250°C","T":124,"S":0.011},{"s":"765min@250°C","T":126,"S":0.008},{"s":"765min@250°C","T":128,"S":0.0065},{"s":"765min@250°C","T":130,"S":0.0058},{"s":"765min@250°C","T":132,"S":0.0055},{"s":"765min@250°C","T":134,"S":0.0055},{"s":"765min@250°C","T":136,"S":0.0063},{"s":"765min@250°C","T":138,"S":0.008},{"s":"765min@250°C","T":140,"S":0.011},{"s":"765min@250°C","T":143,"S":0.018},{"s":"765min@250°C","T":146,"S":0.027},{"s":"765min@250°C","T":149,"S":0.036},{"s":"765min@250°C","T":152,"S":0.045},{"s":"765min@250°C","T":155,"S":0.052},{"s":"765min@250°C","T":157,"S":0.055},{"s":"765min@250°C","T":158.3,"S":0.056},{"s":"765min@250°C","T":159.5,"S":0.054},{"s":"765min@250°C","T":161,"S":0.049},{"s":"765min@250°C","T":163,"S":0.042},{"s":"765min@250°C","T":165,"S":0.035},{"s":"765min@250°C","T":167,"S":0.029},{"s":"765min@250°C","T":169,"S":0.025},{"s":"765min@250°C","T":171,"S":0.023},{"s":"765min@250°C","T":173,"S":0.023},{"s":"765min@250°C","T":175,"S":0.025},{"s":"765min@250°C","T":177,"S":0.028},{"s":"765min@250°C","T":179,"S":0.033},{"s":"765min@250°C","T":181,"S":0.040},{"s":"765min@250°C","T":183,"S":0.049},{"s":"765min@250°C","T":185,"S":0.061},{"s":"765min@250°C","T":187,"S":0.077},{"s":"765min@250°C","T":189,"S":0.097},{"s":"765min@250°C","T":191,"S":0.121},{"s":"765min@250°C","T":193,"S":0.147},{"s":"765min@250°C","T":195,"S":0.172},{"s":"765min@250°C","T":197,"S":0.194},{"s":"765min@250°C","T":198.5,"S":0.207},{"s":"765min@250°C","T":199.6,"S":0.212},{"s":"765min@250°C","T":200.5,"S":0.211},{"s":"765min@250°C","T":201.5,"S":0.204},{"s":"765min@250°C","T":202.5,"S":0.192},{"s":"765min@250°C","T":204,"S":0.170},{"s":"765min@250°C","T":205.5,"S":0.146},{"s":"765min@250°C","T":207,"S":0.123},{"s":"765min@250°C","T":208.5,"S":0.103},{"s":"765min@250°C","T":210,"S":0.085},{"s":"765min@250°C","T":211.5,"S":0.069},{"s":"765min@250°C","T":213,"S":0.056},{"s":"765min@250°C","T":215,"S":0.043},{"s":"765min@250°C","T":217,"S":0.033},{"s":"765min@250°C","T":219,"S":0.026},{"s":"765min@250°C","T":221,"S":0.020},{"s":"765min@250°C","T":223,"S":0.016},
{"s":"3165min@250°C","T":77,"S":0.070},{"s":"3165min@250°C","T":78,"S":0.076},{"s":"3165min@250°C","T":79,"S":0.082},{"s":"3165min@250°C","T":79.7,"S":0.084},{"s":"3165min@250°C","T":80.5,"S":0.081},{"s":"3165min@250°C","T":81.5,"S":0.069},{"s":"3165min@250°C","T":82.5,"S":0.056},{"s":"3165min@250°C","T":83.5,"S":0.045},{"s":"3165min@250°C","T":84.5,"S":0.036},{"s":"3165min@250°C","T":85.5,"S":0.027},{"s":"3165min@250°C","T":86.5,"S":0.019},{"s":"3165min@250°C","T":87.5,"S":0.012},{"s":"3165min@250°C","T":88.5,"S":0.008},{"s":"3165min@250°C","T":89.5,"S":0.0055},{"s":"3165min@250°C","T":90.5,"S":0.004},{"s":"3165min@250°C","T":91.5,"S":0.003},{"s":"3165min@250°C","T":92.5,"S":0.008},{"s":"3165min@250°C","T":93.5,"S":0.012},{"s":"3165min@250°C","T":95,"S":0.017},{"s":"3165min@250°C","T":97,"S":0.026},{"s":"3165min@250°C","T":99,"S":0.038},{"s":"3165min@250°C","T":100.5,"S":0.050},{"s":"3165min@250°C","T":102,"S":0.066},{"s":"3165min@250°C","T":103,"S":0.079},{"s":"3165min@250°C","T":104,"S":0.095},{"s":"3165min@250°C","T":105,"S":0.112},{"s":"3165min@250°C","T":106,"S":0.130},{"s":"3165min@250°C","T":107,"S":0.148},{"s":"3165min@250°C","T":107.8,"S":0.163},{"s":"3165min@250°C","T":108.5,"S":0.170},{"s":"3165min@250°C","T":109.2,"S":0.172},{"s":"3165min@250°C","T":110,"S":0.178},{"s":"3165min@250°C","T":110.8,"S":0.184},{"s":"3165min@250°C","T":111.5,"S":0.186},{"s":"3165min@250°C","T":112.2,"S":0.182},{"s":"3165min@250°C","T":113,"S":0.170},{"s":"3165min@250°C","T":114,"S":0.152},{"s":"3165min@250°C","T":115,"S":0.132},{"s":"3165min@250°C","T":116,"S":0.112},{"s":"3165min@250°C","T":117,"S":0.094},{"s":"3165min@250°C","T":118,"S":0.078},{"s":"3165min@250°C","T":119,"S":0.064},{"s":"3165min@250°C","T":120,"S":0.052},{"s":"3165min@250°C","T":121,"S":0.042},{"s":"3165min@250°C","T":122,"S":0.034},{"s":"3165min@250°C","T":124,"S":0.021},{"s":"3165min@250°C","T":126,"S":0.013},{"s":"3165min@250°C","T":128,"S":0.0085},{"s":"3165min@250°C","T":130,"S":0.0065},{"s":"3165min@250°C","T":132,"S":0.0055},{"s":"3165min@250°C","T":134,"S":0.0055},{"s":"3165min@250°C","T":136,"S":0.0065},{"s":"3165min@250°C","T":138,"S":0.0085},{"s":"3165min@250°C","T":140,"S":0.012},{"s":"3165min@250°C","T":143,"S":0.019},{"s":"3165min@250°C","T":146,"S":0.028},{"s":"3165min@250°C","T":149,"S":0.037},{"s":"3165min@250°C","T":152,"S":0.045},{"s":"3165min@250°C","T":155,"S":0.052},{"s":"3165min@250°C","T":157,"S":0.055},{"s":"3165min@250°C","T":158.3,"S":0.0565},{"s":"3165min@250°C","T":159.5,"S":0.055},{"s":"3165min@250°C","T":161,"S":0.050},{"s":"3165min@250°C","T":163,"S":0.043},{"s":"3165min@250°C","T":165,"S":0.036},{"s":"3165min@250°C","T":167,"S":0.030},{"s":"3165min@250°C","T":169,"S":0.026},{"s":"3165min@250°C","T":171,"S":0.024},{"s":"3165min@250°C","T":173,"S":0.0235},{"s":"3165min@250°C","T":175,"S":0.025},{"s":"3165min@250°C","T":177,"S":0.027},{"s":"3165min@250°C","T":179,"S":0.031},{"s":"3165min@250°C","T":181,"S":0.037},{"s":"3165min@250°C","T":183,"S":0.045},{"s":"3165min@250°C","T":185,"S":0.056},{"s":"3165min@250°C","T":187,"S":0.070},{"s":"3165min@250°C","T":189,"S":0.088},{"s":"3165min@250°C","T":191,"S":0.110},{"s":"3165min@250°C","T":193,"S":0.134},{"s":"3165min@250°C","T":195,"S":0.158},{"s":"3165min@250°C","T":197,"S":0.178},{"s":"3165min@250°C","T":198.5,"S":0.188},{"s":"3165min@250°C","T":199.5,"S":0.190},{"s":"3165min@250°C","T":200.5,"S":0.188},{"s":"3165min@250°C","T":201.5,"S":0.182},{"s":"3165min@250°C","T":203,"S":0.168},{"s":"3165min@250°C","T":204.5,"S":0.151},{"s":"3165min@250°C","T":206,"S":0.133},{"s":"3165min@250°C","T":207.5,"S":0.116},{"s":"3165min@250°C","T":209,"S":0.100},{"s":"3165min@250°C","T":210.5,"S":0.085},{"s":"3165min@250°C","T":212,"S":0.071},{"s":"3165min@250°C","T":213.5,"S":0.059},{"s":"3165min@250°C","T":215,"S":0.049},{"s":"3165min@250°C","T":217,"S":0.038},{"s":"3165min@250°C","T":219,"S":0.030},{"s":"3165min@250°C","T":221,"S":0.024},{"s":"3165min@250°C","T":223,"S":0.019},{"s":"3165min@250°C","T":225,"S":0.015},{"s":"3165min@250°C","T":227,"S":0.012},{"s":"3165min@250°C","T":230,"S":0.008},{"s":"3165min@250°C","T":233,"S":0.0055},{"s":"3165min@250°C","T":236,"S":0.0035},{"s":"3165min@250°C","T":240,"S":0.0012}
],
"C":[
{"s":"15min@250°C","T":78,"S":0.064},{"s":"15min@250°C","T":78.8,"S":0.071},{"s":"15min@250°C","T":79.5,"S":0.076},{"s":"15min@250°C","T":80.1,"S":0.078},{"s":"15min@250°C","T":80.8,"S":0.076},{"s":"15min@250°C","T":81.5,"S":0.070},{"s":"15min@250°C","T":82.6,"S":0.057},{"s":"15min@250°C","T":83.5,"S":0.047},{"s":"15min@250°C","T":84.5,"S":0.039},{"s":"15min@250°C","T":85.2,"S":0.034},{"s":"15min@250°C","T":86.2,"S":0.026},{"s":"15min@250°C","T":87,"S":0.019},{"s":"15min@250°C","T":87.8,"S":0.0144},{"s":"15min@250°C","T":88.8,"S":0.009},{"s":"15min@250°C","T":89.8,"S":0.0058},{"s":"15min@250°C","T":91,"S":0.0048},{"s":"15min@250°C","T":91.5,"S":0.012},{"s":"15min@250°C","T":92,"S":0.028},{"s":"15min@250°C","T":92.6,"S":0.024},{"s":"15min@250°C","T":93,"S":0.018},{"s":"15min@250°C","T":93.7,"S":0.0086},{"s":"15min@250°C","T":94.6,"S":0.020},{"s":"15min@250°C","T":95.6,"S":0.0125},{"s":"15min@250°C","T":96.7,"S":0.0077},{"s":"15min@250°C","T":97.3,"S":0.013},{"s":"15min@250°C","T":97.9,"S":0.018},{"s":"15min@250°C","T":98.9,"S":0.016},{"s":"15min@250°C","T":100.2,"S":0.017},{"s":"15min@250°C","T":101.2,"S":0.023},{"s":"15min@250°C","T":102.2,"S":0.0335},{"s":"15min@250°C","T":103.5,"S":0.049},{"s":"15min@250°C","T":104.8,"S":0.068},{"s":"15min@250°C","T":106,"S":0.088},{"s":"15min@250°C","T":107.4,"S":0.110},{"s":"15min@250°C","T":108.7,"S":0.132},{"s":"15min@250°C","T":110,"S":0.152},{"s":"15min@250°C","T":111.2,"S":0.166},{"s":"15min@250°C","T":112.3,"S":0.177},{"s":"15min@250°C","T":113.2,"S":0.183},{"s":"15min@250°C","T":113.9,"S":0.186},{"s":"15min@250°C","T":114.8,"S":0.182},{"s":"15min@250°C","T":115.9,"S":0.177},{"s":"15min@250°C","T":116.8,"S":0.165},{"s":"15min@250°C","T":117.8,"S":0.149},{"s":"15min@250°C","T":118.8,"S":0.130},{"s":"15min@250°C","T":119.8,"S":0.110},{"s":"15min@250°C","T":120.8,"S":0.091},{"s":"15min@250°C","T":121.7,"S":0.074},{"s":"15min@250°C","T":122.6,"S":0.060},{"s":"15min@250°C","T":123.5,"S":0.047},{"s":"15min@250°C","T":124.3,"S":0.038},{"s":"15min@250°C","T":125.5,"S":0.028},{"s":"15min@250°C","T":126.9,"S":0.020},{"s":"15min@250°C","T":128.2,"S":0.015},{"s":"15min@250°C","T":129.5,"S":0.0115},{"s":"15min@250°C","T":130.8,"S":0.0095},{"s":"15min@250°C","T":132.2,"S":0.0086},{"s":"15min@250°C","T":133.2,"S":0.006},{"s":"15min@250°C","T":133.7,"S":0.0005},{"s":"15min@250°C","T":134.3,"S":0.003},{"s":"15min@250°C","T":135,"S":0.005},{"s":"15min@250°C","T":135.8,"S":0.0068},{"s":"15min@250°C","T":136.5,"S":0.0065},{"s":"15min@250°C","T":137.3,"S":0.0045},{"s":"15min@250°C","T":138,"S":0.0038},{"s":"15min@250°C","T":139,"S":0.0045},{"s":"15min@250°C","T":140,"S":0.0048},{"s":"15min@250°C","T":142,"S":0.0047},{"s":"15min@250°C","T":145,"S":0.0052},{"s":"15min@250°C","T":148,"S":0.0052},{"s":"15min@250°C","T":151.7,"S":0.0053},{"s":"15min@250°C","T":155,"S":0.0052},{"s":"15min@250°C","T":158.2,"S":0.0053},{"s":"15min@250°C","T":161,"S":0.006},{"s":"15min@250°C","T":164.7,"S":0.0068},{"s":"15min@250°C","T":167.5,"S":0.0085},{"s":"15min@250°C","T":170,"S":0.0105},{"s":"15min@250°C","T":171.5,"S":0.013},{"s":"15min@250°C","T":172.6,"S":0.016},{"s":"15min@250°C","T":173.9,"S":0.022},{"s":"15min@250°C","T":174.5,"S":0.030},{"s":"15min@250°C","T":174.9,"S":0.039},{"s":"15min@250°C","T":175.5,"S":0.031},{"s":"15min@250°C","T":175.9,"S":0.028},{"s":"15min@250°C","T":176.8,"S":0.032},{"s":"15min@250°C","T":177.8,"S":0.037},{"s":"15min@250°C","T":179,"S":0.046},{"s":"15min@250°C","T":180.4,"S":0.057},{"s":"15min@250°C","T":181.7,"S":0.068},{"s":"15min@250°C","T":183,"S":0.080},{"s":"15min@250°C","T":184.3,"S":0.093},{"s":"15min@250°C","T":185.6,"S":0.107},{"s":"15min@250°C","T":186.9,"S":0.121},{"s":"15min@250°C","T":188.2,"S":0.134},{"s":"15min@250°C","T":189.5,"S":0.146},{"s":"15min@250°C","T":190.8,"S":0.156},{"s":"15min@250°C","T":192.1,"S":0.163},{"s":"15min@250°C","T":193.4,"S":0.168},{"s":"15min@250°C","T":194.7,"S":0.171},{"s":"15min@250°C","T":195.9,"S":0.172},{"s":"15min@250°C","T":196.8,"S":0.172},{"s":"15min@250°C","T":197.8,"S":0.170},{"s":"15min@250°C","T":199,"S":0.165},{"s":"15min@250°C","T":200.1,"S":0.159},{"s":"15min@250°C","T":201.3,"S":0.148},{"s":"15min@250°C","T":202.6,"S":0.134},{"s":"15min@250°C","T":203.9,"S":0.118},{"s":"15min@250°C","T":205.2,"S":0.102},{"s":"15min@250°C","T":206.5,"S":0.087},{"s":"15min@250°C","T":207.8,"S":0.073},{"s":"15min@250°C","T":209.1,"S":0.060},{"s":"15min@250°C","T":210.4,"S":0.050},{"s":"15min@250°C","T":212,"S":0.040},{"s":"15min@250°C","T":213.7,"S":0.031},{"s":"15min@250°C","T":215.6,"S":0.024},{"s":"15min@250°C","T":217.5,"S":0.019},{"s":"15min@250°C","T":219,"S":0.016},{"s":"15min@250°C","T":220.1,"S":0.0135},{"s":"15min@250°C","T":220.8,"S":0.016},{"s":"15min@250°C","T":221.4,"S":0.0145},{"s":"15min@250°C","T":222,"S":0.012},{"s":"15min@250°C","T":223,"S":0.011},{"s":"15min@250°C","T":224,"S":0.0095},{"s":"15min@250°C","T":225,"S":0.008},{"s":"15min@250°C","T":226,"S":0.0065},
{"s":"285min@250°C","T":78,"S":0.061},{"s":"285min@250°C","T":78.8,"S":0.064},{"s":"285min@250°C","T":79.5,"S":0.066},{"s":"285min@250°C","T":80.2,"S":0.068},{"s":"285min@250°C","T":81,"S":0.066},{"s":"285min@250°C","T":81.8,"S":0.060},{"s":"285min@250°C","T":82.8,"S":0.052},{"s":"285min@250°C","T":83.8,"S":0.044},{"s":"285min@250°C","T":84.8,"S":0.036},{"s":"285min@250°C","T":85.8,"S":0.028},{"s":"285min@250°C","T":86.8,"S":0.020},{"s":"285min@250°C","T":87.8,"S":0.013},{"s":"285min@250°C","T":88.8,"S":0.008},{"s":"285min@250°C","T":89.8,"S":0.0055},{"s":"285min@250°C","T":90.8,"S":0.0045},{"s":"285min@250°C","T":91.5,"S":0.006},{"s":"285min@250°C","T":92,"S":0.024},{"s":"285min@250°C","T":92.6,"S":0.020},{"s":"285min@250°C","T":93.2,"S":0.012},{"s":"285min@250°C","T":94,"S":0.007},{"s":"285min@250°C","T":95,"S":0.011},{"s":"285min@250°C","T":96,"S":0.008},{"s":"285min@250°C","T":97,"S":0.010},{"s":"285min@250°C","T":98,"S":0.013},{"s":"285min@250°C","T":99,"S":0.015},{"s":"285min@250°C","T":100.2,"S":0.018},{"s":"285min@250°C","T":101.2,"S":0.023},{"s":"285min@250°C","T":102.2,"S":0.032},{"s":"285min@250°C","T":103.5,"S":0.047},{"s":"285min@250°C","T":104.8,"S":0.066},{"s":"285min@250°C","T":106,"S":0.086},{"s":"285min@250°C","T":107.4,"S":0.108},{"s":"285min@250°C","T":108.7,"S":0.130},{"s":"285min@250°C","T":110,"S":0.150},{"s":"285min@250°C","T":111.2,"S":0.164},{"s":"285min@250°C","T":112.3,"S":0.175},{"s":"285min@250°C","T":113.2,"S":0.180},{"s":"285min@250°C","T":114.2,"S":0.183},{"s":"285min@250°C","T":115,"S":0.180},{"s":"285min@250°C","T":116,"S":0.173},{"s":"285min@250°C","T":117,"S":0.160},{"s":"285min@250°C","T":118,"S":0.143},{"s":"285min@250°C","T":119,"S":0.123},{"s":"285min@250°C","T":120,"S":0.103},{"s":"285min@250°C","T":121,"S":0.084},{"s":"285min@250°C","T":122,"S":0.068},{"s":"285min@250°C","T":123,"S":0.054},{"s":"285min@250°C","T":124,"S":0.042},{"s":"285min@250°C","T":125,"S":0.033},{"s":"285min@250°C","T":126.5,"S":0.023},{"s":"285min@250°C","T":128,"S":0.015},{"s":"285min@250°C","T":129.5,"S":0.010},{"s":"285min@250°C","T":131,"S":0.0075},{"s":"285min@250°C","T":133,"S":0.006},{"s":"285min@250°C","T":135,"S":0.005},{"s":"285min@250°C","T":137,"S":0.0042},{"s":"285min@250°C","T":139,"S":0.0038},{"s":"285min@250°C","T":142,"S":0.004},{"s":"285min@250°C","T":145,"S":0.0042},{"s":"285min@250°C","T":148,"S":0.0045},{"s":"285min@250°C","T":151,"S":0.0046},{"s":"285min@250°C","T":155,"S":0.0046},{"s":"285min@250°C","T":158,"S":0.0048},{"s":"285min@250°C","T":162,"S":0.0055},{"s":"285min@250°C","T":165,"S":0.0065},{"s":"285min@250°C","T":168,"S":0.008},{"s":"285min@250°C","T":170,"S":0.0095},{"s":"285min@250°C","T":172,"S":0.012},{"s":"285min@250°C","T":174,"S":0.018},{"s":"285min@250°C","T":175.5,"S":0.025},{"s":"285min@250°C","T":177,"S":0.031},{"s":"285min@250°C","T":178.5,"S":0.039},{"s":"285min@250°C","T":180,"S":0.050},{"s":"285min@250°C","T":181.5,"S":0.063},{"s":"285min@250°C","T":183,"S":0.077},{"s":"285min@250°C","T":184.5,"S":0.092},{"s":"285min@250°C","T":186,"S":0.108},{"s":"285min@250°C","T":187.5,"S":0.124},{"s":"285min@250°C","T":189,"S":0.139},{"s":"285min@250°C","T":190.5,"S":0.152},{"s":"285min@250°C","T":192,"S":0.162},{"s":"285min@250°C","T":193.5,"S":0.168},{"s":"285min@250°C","T":195,"S":0.171},{"s":"285min@250°C","T":196.3,"S":0.171},{"s":"285min@250°C","T":197.5,"S":0.169},{"s":"285min@250°C","T":199,"S":0.163},{"s":"285min@250°C","T":200.5,"S":0.153},{"s":"285min@250°C","T":202,"S":0.139},{"s":"285min@250°C","T":203.5,"S":0.122},{"s":"285min@250°C","T":205,"S":0.105},{"s":"285min@250°C","T":206.5,"S":0.088},{"s":"285min@250°C","T":208,"S":0.073},{"s":"285min@250°C","T":209.5,"S":0.060},{"s":"285min@250°C","T":211,"S":0.049},{"s":"285min@250°C","T":213,"S":0.038},{"s":"285min@250°C","T":215,"S":0.030},{"s":"285min@250°C","T":217,"S":0.023},{"s":"285min@250°C","T":219,"S":0.018},{"s":"285min@250°C","T":221,"S":0.014},{"s":"285min@250°C","T":223,"S":0.011},{"s":"285min@250°C","T":225,"S":0.008},{"s":"285min@250°C","T":227,"S":0.006},{"s":"285min@250°C","T":229,"S":0.0045},{"s":"285min@250°C","T":231,"S":0.0035},{"s":"285min@250°C","T":233,"S":0.0027},{"s":"285min@250°C","T":235,"S":0.002},{"s":"285min@250°C","T":237,"S":0.0016},{"s":"285min@250°C","T":240,"S":0.0013},
{"s":"765min@250°C","T":78,"S":0.050},{"s":"765min@250°C","T":78.7,"S":0.058},{"s":"765min@250°C","T":79.4,"S":0.064},{"s":"765min@250°C","T":80.1,"S":0.068},{"s":"765min@250°C","T":80.8,"S":0.067},{"s":"765min@250°C","T":81.6,"S":0.062},{"s":"765min@250°C","T":82.6,"S":0.054},{"s":"765min@250°C","T":83.6,"S":0.045},{"s":"765min@250°C","T":84.6,"S":0.037},{"s":"765min@250°C","T":85.6,"S":0.029},{"s":"765min@250°C","T":86.6,"S":0.021},{"s":"765min@250°C","T":87.6,"S":0.014},{"s":"765min@250°C","T":88.6,"S":0.009},{"s":"765min@250°C","T":89.6,"S":0.006},{"s":"765min@250°C","T":90.6,"S":0.0045},{"s":"765min@250°C","T":91.5,"S":0.005},{"s":"765min@250°C","T":92.2,"S":0.020},{"s":"765min@250°C","T":93,"S":0.012},{"s":"765min@250°C","T":94,"S":0.008},{"s":"765min@250°C","T":95,"S":0.012},{"s":"765min@250°C","T":96,"S":0.009},{"s":"765min@250°C","T":97,"S":0.011},{"s":"765min@250°C","T":98,"S":0.014},{"s":"765min@250°C","T":99,"S":0.016},{"s":"765min@250°C","T":100.2,"S":0.018},{"s":"765min@250°C","T":101.2,"S":0.023},{"s":"765min@250°C","T":102.2,"S":0.033},{"s":"765min@250°C","T":103.5,"S":0.048},{"s":"765min@250°C","T":104.8,"S":0.067},{"s":"765min@250°C","T":106,"S":0.087},{"s":"765min@250°C","T":107.4,"S":0.109},{"s":"765min@250°C","T":108.7,"S":0.131},{"s":"765min@250°C","T":110,"S":0.151},{"s":"765min@250°C","T":111.2,"S":0.165},{"s":"765min@250°C","T":112.3,"S":0.176},{"s":"765min@250°C","T":113.2,"S":0.182},{"s":"765min@250°C","T":114,"S":0.185},{"s":"765min@250°C","T":114.8,"S":0.182},{"s":"765min@250°C","T":115.8,"S":0.176},{"s":"765min@250°C","T":116.8,"S":0.164},{"s":"765min@250°C","T":117.8,"S":0.148},{"s":"765min@250°C","T":118.8,"S":0.129},{"s":"765min@250°C","T":119.8,"S":0.109},{"s":"765min@250°C","T":120.8,"S":0.090},{"s":"765min@250°C","T":121.8,"S":0.073},{"s":"765min@250°C","T":122.8,"S":0.058},{"s":"765min@250°C","T":123.8,"S":0.046},{"s":"765min@250°C","T":124.8,"S":0.036},{"s":"765min@250°C","T":126,"S":0.027},{"s":"765min@250°C","T":127.5,"S":0.019},{"s":"765min@250°C","T":129,"S":0.013},{"s":"765min@250°C","T":130.5,"S":0.0095},{"s":"765min@250°C","T":132,"S":0.0085},{"s":"765min@250°C","T":133.5,"S":0.0075},{"s":"765min@250°C","T":135,"S":0.0065},{"s":"765min@250°C","T":137,"S":0.006},{"s":"765min@250°C","T":139,"S":0.0058},{"s":"765min@250°C","T":142,"S":0.006},{"s":"765min@250°C","T":145,"S":0.0065},{"s":"765min@250°C","T":148,"S":0.0068},{"s":"765min@250°C","T":151,"S":0.007},{"s":"765min@250°C","T":155,"S":0.0072},{"s":"765min@250°C","T":158,"S":0.0075},{"s":"765min@250°C","T":162,"S":0.008},{"s":"765min@250°C","T":165,"S":0.0088},{"s":"765min@250°C","T":168,"S":0.010},{"s":"765min@250°C","T":170,"S":0.0115},{"s":"765min@250°C","T":172,"S":0.014},{"s":"765min@250°C","T":174,"S":0.019},{"s":"765min@250°C","T":175.5,"S":0.026},{"s":"765min@250°C","T":177,"S":0.032},{"s":"765min@250°C","T":178.5,"S":0.040},{"s":"765min@250°C","T":180,"S":0.051},{"s":"765min@250°C","T":181.5,"S":0.064},{"s":"765min@250°C","T":183,"S":0.078},{"s":"765min@250°C","T":184.5,"S":0.093},{"s":"765min@250°C","T":186,"S":0.109},{"s":"765min@250°C","T":187.5,"S":0.125},{"s":"765min@250°C","T":189,"S":0.140},{"s":"765min@250°C","T":190.5,"S":0.153},{"s":"765min@250°C","T":192,"S":0.163},{"s":"765min@250°C","T":193.5,"S":0.169},{"s":"765min@250°C","T":195,"S":0.172},{"s":"765min@250°C","T":196.3,"S":0.172},{"s":"765min@250°C","T":197.5,"S":0.170},{"s":"765min@250°C","T":199,"S":0.164},{"s":"765min@250°C","T":200.5,"S":0.154},{"s":"765min@250°C","T":202,"S":0.140},{"s":"765min@250°C","T":203.5,"S":0.123},{"s":"765min@250°C","T":205,"S":0.106},{"s":"765min@250°C","T":206.5,"S":0.089},{"s":"765min@250°C","T":208,"S":0.074},{"s":"765min@250°C","T":209.5,"S":0.061},{"s":"765min@250°C","T":211,"S":0.050},{"s":"765min@250°C","T":213,"S":0.039},{"s":"765min@250°C","T":215,"S":0.030},{"s":"765min@250°C","T":217,"S":0.023},{"s":"765min@250°C","T":219,"S":0.018},{"s":"765min@250°C","T":221,"S":0.014},{"s":"765min@250°C","T":223,"S":0.011},{"s":"765min@250°C","T":225,"S":0.008},
{"s":"3165min@250°C","T":78,"S":0.058},{"s":"3165min@250°C","T":78.7,"S":0.061},{"s":"3165min@250°C","T":79.4,"S":0.064},{"s":"3165min@250°C","T":80.1,"S":0.067},{"s":"3165min@250°C","T":80.8,"S":0.066},{"s":"3165min@250°C","T":81.6,"S":0.061},{"s":"3165min@250°C","T":82.6,"S":0.053},{"s":"3165min@250°C","T":83.6,"S":0.045},{"s":"3165min@250°C","T":84.6,"S":0.037},{"s":"3165min@250°C","T":85.6,"S":0.029},{"s":"3165min@250°C","T":86.6,"S":0.021},{"s":"3165min@250°C","T":87.6,"S":0.014},{"s":"3165min@250°C","T":88.6,"S":0.009},{"s":"3165min@250°C","T":89.6,"S":0.006},{"s":"3165min@250°C","T":90.6,"S":0.0045},{"s":"3165min@250°C","T":91.3,"S":0.003},{"s":"3165min@250°C","T":92,"S":0.006},{"s":"3165min@250°C","T":93,"S":0.010},{"s":"3165min@250°C","T":94,"S":0.014},{"s":"3165min@250°C","T":95,"S":0.016},{"s":"3165min@250°C","T":96,"S":0.019},{"s":"3165min@250°C","T":97,"S":0.022},{"s":"3165min@250°C","T":98,"S":0.027},{"s":"3165min@250°C","T":99,"S":0.033},{"s":"3165min@250°C","T":100,"S":0.040},{"s":"3165min@250°C","T":101,"S":0.048},{"s":"3165min@250°C","T":102,"S":0.058},{"s":"3165min@250°C","T":103,"S":0.070},{"s":"3165min@250°C","T":104,"S":0.084},{"s":"3165min@250°C","T":105,"S":0.099},{"s":"3165min@250°C","T":106,"S":0.113},{"s":"3165min@250°C","T":107,"S":0.126},{"s":"3165min@250°C","T":108,"S":0.138},{"s":"3165min@250°C","T":109,"S":0.147},{"s":"3165min@250°C","T":109.8,"S":0.153},{"s":"3165min@250°C","T":110.6,"S":0.155},{"s":"3165min@250°C","T":111.4,"S":0.152},{"s":"3165min@250°C","T":112.3,"S":0.143},{"s":"3165min@250°C","T":113.2,"S":0.133},{"s":"3165min@250°C","T":114.2,"S":0.118},{"s":"3165min@250°C","T":115.3,"S":0.102},{"s":"3165min@250°C","T":116.5,"S":0.088},{"s":"3165min@250°C","T":117.8,"S":0.073},{"s":"3165min@250°C","T":119.1,"S":0.060},{"s":"3165min@250°C","T":120.4,"S":0.048},{"s":"3165min@250°C","T":121.7,"S":0.038},{"s":"3165min@250°C","T":123.3,"S":0.029},{"s":"3165min@250°C","T":125,"S":0.021},{"s":"3165min@250°C","T":126.6,"S":0.015},{"s":"3165min@250°C","T":128.2,"S":0.0105},{"s":"3165min@250°C","T":130,"S":0.009},{"s":"3165min@250°C","T":132.2,"S":0.0086},{"s":"3165min@250°C","T":134.8,"S":0.0088},{"s":"3165min@250°C","T":137,"S":0.011},{"s":"3165min@250°C","T":140,"S":0.0144},{"s":"3165min@250°C","T":142.5,"S":0.019},{"s":"3165min@250°C","T":145.2,"S":0.025},{"s":"3165min@250°C","T":148,"S":0.032},{"s":"3165min@250°C","T":150.4,"S":0.038},{"s":"3165min@250°C","T":152.5,"S":0.045},{"s":"3165min@250°C","T":154.3,"S":0.051},{"s":"3165min@250°C","T":156.3,"S":0.057},{"s":"3165min@250°C","T":158.2,"S":0.061},{"s":"3165min@250°C","T":160.5,"S":0.064},{"s":"3165min@250°C","T":163.4,"S":0.066},{"s":"3165min@250°C","T":166,"S":0.067},{"s":"3165min@250°C","T":168.5,"S":0.067},{"s":"3165min@250°C","T":171.3,"S":0.064},{"s":"3165min@250°C","T":173.5,"S":0.061},{"s":"3165min@250°C","T":175.5,"S":0.058},{"s":"3165min@250°C","T":177.8,"S":0.0565},{"s":"3165min@250°C","T":179.5,"S":0.058},{"s":"3165min@250°C","T":180.8,"S":0.060},{"s":"3165min@250°C","T":182.3,"S":0.066},{"s":"3165min@250°C","T":183.6,"S":0.075},{"s":"3165min@250°C","T":184.8,"S":0.087},{"s":"3165min@250°C","T":186,"S":0.099},{"s":"3165min@250°C","T":187.3,"S":0.113},{"s":"3165min@250°C","T":188.6,"S":0.127},{"s":"3165min@250°C","T":190,"S":0.140},{"s":"3165min@250°C","T":191.5,"S":0.151},{"s":"3165min@250°C","T":193,"S":0.160},{"s":"3165min@250°C","T":194.6,"S":0.166},{"s":"3165min@250°C","T":196.2,"S":0.170},{"s":"3165min@250°C","T":197.8,"S":0.173},{"s":"3165min@250°C","T":199.3,"S":0.175},{"s":"3165min@250°C","T":200.5,"S":0.1755},{"s":"3165min@250°C","T":201.6,"S":0.174},{"s":"3165min@250°C","T":202.8,"S":0.169},{"s":"3165min@250°C","T":204,"S":0.160},{"s":"3165min@250°C","T":205.2,"S":0.148},{"s":"3165min@250°C","T":206.4,"S":0.134},{"s":"3165min@250°C","T":207.6,"S":0.120},{"s":"3165min@250°C","T":208.8,"S":0.106},{"s":"3165min@250°C","T":210,"S":0.093},{"s":"3165min@250°C","T":211.3,"S":0.080},{"s":"3165min@250°C","T":212.6,"S":0.069},{"s":"3165min@250°C","T":214,"S":0.058},{"s":"3165min@250°C","T":215.6,"S":0.048},{"s":"3165min@250°C","T":217.3,"S":0.039},{"s":"3165min@250°C","T":219.2,"S":0.031},{"s":"3165min@250°C","T":221.3,"S":0.024},{"s":"3165min@250°C","T":223.5,"S":0.019},{"s":"3165min@250°C","T":226,"S":0.0145},{"s":"3165min@250°C","T":228.5,"S":0.012},{"s":"3165min@250°C","T":231,"S":0.010},{"s":"3165min@250°C","T":233.5,"S":0.0092},{"s":"3165min@250°C","T":236,"S":0.0093},{"s":"3165min@250°C","T":238,"S":0.0096},{"s":"3165min@250°C","T":240,"S":0.010}
],
"ann":[
{"p":"a","label":"VO(x0.1)","T":83.9,"S":0.087},{"p":"a","label":"X(-/=)","T":96,"S":0.206},{"p":"a","label":"V₂(-/=)","T":127.4,"S":0.213},{"p":"a","label":"V₂(0/-)","T":179.4,"S":0.212},{"p":"a","label":"X(0/-)","T":214.4,"S":0.212},{"p":"a","label":"a)","T":233,"S":0.2095},
{"p":"b","label":"VO(x0.1)","T":85,"S":0.0916},{"p":"b","label":"X(-/=)","T":94.8,"S":0.187},{"p":"b","label":"V₂(-/=)","T":131.6,"S":0.209},{"p":"b","label":"V₂(0/-)","T":177.1,"S":0.2027},{"p":"b","label":"X(0/-)","T":216.6,"S":0.195},{"p":"b","label":"b)","T":232.4,"S":0.2065},
{"p":"c","label":"VO(x0.1)","T":84.2,"S":0.0844},{"p":"c","label":"X(-/=)","T":89.1,"S":0.183},{"p":"c","label":"V₂(-/=)","T":126.5,"S":0.206},{"p":"c","label":"V₂(0/-)","T":175.2,"S":0.206},{"p":"c","label":"X(0/-)","T":221.7,"S":0.179},{"p":"c","label":"c)","T":232.5,"S":0.204}
],
"arr":[
{"p":"a","T":99.9,"S":0.201,"T2":106,"S2":0.1885},{"p":"a","T":121.3,"S":0.2076,"T2":117.4,"S2":0.196},{"p":"a","T":183.6,"S":0.204,"T2":192,"S2":0.1895},{"p":"a","T":210.3,"S":0.202,"T2":207.7,"S2":0.1914},
{"p":"b","T":98,"S":0.1816,"T2":107.2,"S2":0.168},{"p":"b","T":124.2,"S":0.2046,"T2":117.6,"S2":0.192},{"p":"b","T":184.3,"S":0.197,"T2":192.2,"S2":0.191},{"p":"b","T":209.8,"S":0.19,"T2":205.2,"S2":0.1807},
{"p":"c","T":98.3,"S":0.1716,"T2":107.4,"S2":0.1515},{"p":"c","T":125.6,"S":0.1985,"T2":117.2,"S2":0.178},{"p":"c","T":181,"S":0.1965,"T2":190.8,"S2":0.1755},{"p":"c","T":218.9,"S":0.1707,"T2":209.1,"S2":0.1505}
]
},
"vconcat":[
{"width":540,"height":394,
 "layer":[
  {"data":{"name":"A"},"mark":{"type":"line","color":"black","strokeWidth":1.3,"clip":true},
   "encoding":{
    "x":{"field":"T","type":"quantitative","scale":{"domain":[70,240],"nice":false,"zero":false},"axis":{"orient":"bottom","values":[80,100,120,140,160,180,200,220,240],"ticks":false,"labelPadding":10,"title":"Temperature (K)","titleX":270,"titleY":52,"titleBaseline":"alphabetic","titleAlign":"center"}},
    "y":{"field":"S","type":"quantitative","scale":{"domain":[0,0.225],"nice":false,"zero":false},"axis":{"orient":"left","values":[0,0.05,0.1,0.15,0.2],"format":".2f","ticks":false,"labelPadding":9,"title":"DLTS signal (pF)","titleX":-75,"titleY":184,"titleAngle":-90,"titleAlign":"center","titleBaseline":"alphabetic"}},
    "strokeDash":{"field":"s","type":"nominal","scale":{"domain":["15min@250°C","285min@250°C","765min@250°C","3165min@250°C"],"range":[[1,0],[7,4],[1.5,3],[8,3,2,3]]},
     "legend":{"title":"sample A","orient":"none","legendX":185,"legendY":74,"symbolType":"M-2,0H2","symbolSize":400,"symbolOffset":10,"symbolStrokeWidth":1.5,"symbolStrokeColor":"black","symbolFillColor":"transparent","labelFontSize":17,"labelFont":"Liberation Sans","labelColor":"black","titleFontSize":17,"titleFont":"Liberation Sans","titleFontWeight":"normal","titleColor":"black","rowPadding":6,"titlePadding":5,"labelOffset":15,"padding":0}}
   }},
  {"data":{"name":"ann"},"transform":[{"filter":"datum.p=='a'"}],"mark":{"type":"text","font":"Liberation Sans","fontSize":18.5,"color":"black","align":"center","baseline":"middle"},
   "encoding":{"x":{"field":"T","type":"quantitative","scale":{"domain":[70,240],"nice":false,"zero":false},"axis":{"orient":"bottom","values":[80,100,120,140,160,180,200,220],"labels":false,"tickSize":-6,"title":null}},
    "y":{"field":"S","type":"quantitative","scale":{"domain":[0,0.225],"nice":false,"zero":false},"axis":{"orient":"left","values":[0.05,0.1,0.15,0.2],"labels":false,"tickSize":-6,"title":null}},
    "text":{"field":"label"}}},
  {"data":{"name":"arr"},"transform":[{"filter":"datum.p=='a'"}],"mark":{"type":"rule","color":"black","strokeWidth":1.2},
   "encoding":{"x":{"field":"T","type":"quantitative","scale":{"domain":[70,240],"nice":false,"zero":false},"axis":{"orient":"top","values":[80,100,120,140,160,180,200,220],"labels":false,"tickSize":-6,"title":null}},
    "y":{"field":"S","type":"quantitative","scale":{"domain":[0,0.225],"nice":false,"zero":false},"axis":{"orient":"right","values":[0.05,0.1,0.15,0.2],"labels":false,"tickSize":-6,"title":null}},
    "x2":{"field":"T2"},"y2":{"field":"S2"}}},
  {"data":{"name":"arr"},"transform":[{"filter":"datum.p=='a' && datum.T2 > datum.T"}],"mark":{"type":"point","shape":"M0,0L0.6,2L-0.6,2Z","filled":true,"color":"black","opacity":1,"size":50,"angle":135},
   "encoding":{"x":{"field":"T2","type":"quantitative","scale":{"domain":[70,240],"nice":false,"zero":false},"axis":{"orient":"bottom","values":[90,110,130,150,170,190,210,230],"labels":false,"tickSize":-4,"title":null}},
    "y":{"field":"S2","type":"quantitative","scale":{"domain":[0,0.225],"nice":false,"zero":false},"axis":{"orient":"left","values":[0.025,0.075,0.125,0.175],"labels":false,"tickSize":-4,"title":null}}}},
  {"data":{"name":"arr"},"transform":[{"filter":"datum.p=='a' && datum.T2 < datum.T"}],"mark":{"type":"point","shape":"M0,0L0.6,2L-0.6,2Z","filled":true,"color":"black","opacity":1,"size":50,"angle":218},
   "encoding":{"x":{"field":"T2","type":"quantitative","scale":{"domain":[70,240],"nice":false,"zero":false},"axis":{"orient":"top","values":[90,110,130,150,170,190,210,230],"labels":false,"tickSize":-4,"title":null}},
    "y":{"field":"S2","type":"quantitative","scale":{"domain":[0,0.225],"nice":false,"zero":false},"axis":{"orient":"right","values":[0.025,0.075,0.125,0.175],"labels":false,"tickSize":-4,"title":null}}}}
 ],
 "resolve":{"axis":{"x":"independent","y":"independent"}}
},
{"width":540,"height":393,
 "layer":[
  {"data":{"name":"B"},"mark":{"type":"line","color":"black","strokeWidth":1.3,"clip":true},
   "encoding":{
    "x":{"field":"T","type":"quantitative","scale":{"domain":[70,240],"nice":false,"zero":false},"axis":{"orient":"bottom","values":[80,100,120,140,160,180,200,220,240],"ticks":false,"labelPadding":10,"title":"Temperature (K)","titleX":270,"titleY":45,"titleBaseline":"alphabetic","titleAlign":"center"}},
    "y":{"field":"S","type":"quantitative","scale":{"domain":[0,0.225],"nice":false,"zero":false},"axis":{"orient":"left","values":[0,0.05,0.1,0.15,0.2],"format":".2f","ticks":false,"labelPadding":9,"title":"DLTS signal (pF)","titleX":-75,"titleY":186,"titleAngle":-90,"titleAlign":"center","titleBaseline":"alphabetic"}},
    "strokeDash":{"field":"s","type":"nominal","scale":{"domain":["15min@250°C","285min@250°C","765min@250°C","3165min@250°C"],"range":[[1,0],[7,4],[1.5,3],[8,3,2,3]]},
     "legend":{"title":"sample B","orient":"none","legendX":175,"legendY":76,"symbolType":"M-2,0H2","symbolSize":400,"symbolOffset":10,"symbolStrokeWidth":1.5,"symbolStrokeColor":"black","symbolFillColor":"transparent","labelFontSize":17,"labelFont":"Liberation Sans","labelColor":"black","titleFontSize":17,"titleFont":"Liberation Sans","titleFontWeight":"normal","titleColor":"black","rowPadding":6,"titlePadding":5,"labelOffset":15,"padding":0}}
   }},
  {"data":{"name":"ann"},"transform":[{"filter":"datum.p=='b'"}],"mark":{"type":"text","font":"Liberation Sans","fontSize":18.5,"color":"black","align":"center","baseline":"middle"},
   "encoding":{"x":{"field":"T","type":"quantitative","scale":{"domain":[70,240],"nice":false,"zero":false},"axis":{"orient":"bottom","values":[80,100,120,140,160,180,200,220],"labels":false,"tickSize":-6,"title":null}},
    "y":{"field":"S","type":"quantitative","scale":{"domain":[0,0.225],"nice":false,"zero":false},"axis":{"orient":"left","values":[0.05,0.1,0.15,0.2],"labels":false,"tickSize":-6,"title":null}},
    "text":{"field":"label"}}},
  {"data":{"name":"arr"},"transform":[{"filter":"datum.p=='b'"}],"mark":{"type":"rule","color":"black","strokeWidth":1.2},
   "encoding":{"x":{"field":"T","type":"quantitative","scale":{"domain":[70,240],"nice":false,"zero":false},"axis":{"orient":"top","values":[80,100,120,140,160,180,200,220],"labels":false,"tickSize":-6,"title":null}},
    "y":{"field":"S","type":"quantitative","scale":{"domain":[0,0.225],"nice":false,"zero":false},"axis":{"orient":"right","values":[0.05,0.1,0.15,0.2],"labels":false,"tickSize":-6,"title":null}},
    "x2":{"field":"T2"},"y2":{"field":"S2"}}},
  {"data":{"name":"arr"},"transform":[{"filter":"datum.p=='b' && datum.T2 > datum.T"}],"mark":{"type":"point","shape":"M0,0L0.6,2L-0.6,2Z","filled":true,"color":"black","opacity":1,"size":50,"angle":125},
   "encoding":{"x":{"field":"T2","type":"quantitative","scale":{"domain":[70,240],"nice":false,"zero":false},"axis":{"orient":"bottom","values":[90,110,130,150,170,190,210,230],"labels":false,"tickSize":-4,"title":null}},
    "y":{"field":"S2","type":"quantitative","scale":{"domain":[0,0.225],"nice":false,"zero":false},"axis":{"orient":"left","values":[0.025,0.075,0.125,0.175],"labels":false,"tickSize":-4,"title":null}}}},
  {"data":{"name":"arr"},"transform":[{"filter":"datum.p=='b' && datum.T2 < datum.T"}],"mark":{"type":"point","shape":"M0,0L0.6,2L-0.6,2Z","filled":true,"color":"black","opacity":1,"size":50,"angle":222},
   "encoding":{"x":{"field":"T2","type":"quantitative","scale":{"domain":[70,240],"nice":false,"zero":false},"axis":{"orient":"top","values":[90,110,130,150,170,190,210,230],"labels":false,"tickSize":-4,"title":null}},
    "y":{"field":"S2","type":"quantitative","scale":{"domain":[0,0.225],"nice":false,"zero":false},"axis":{"orient":"right","values":[0.025,0.075,0.125,0.175],"labels":false,"tickSize":-4,"title":null}}}}
 ],
 "resolve":{"axis":{"x":"independent","y":"independent"}}
},
{"width":540,"height":392,
 "layer":[
  {"data":{"name":"C"},"mark":{"type":"line","color":"black","strokeWidth":1.3,"clip":true},
   "encoding":{
    "x":{"field":"T","type":"quantitative","scale":{"domain":[70,240],"nice":false,"zero":false},"axis":{"orient":"bottom","values":[80,100,120,140,160,180,200,220,240],"ticks":false,"labelPadding":10,"title":"Temperature (K)","titleX":270,"titleY":51,"titleBaseline":"alphabetic","titleAlign":"center"}},
    "y":{"field":"S","type":"quantitative","scale":{"domain":[0,0.225],"nice":false,"zero":false},"axis":{"orient":"left","values":[0,0.05,0.1,0.15,0.2],"format":".2f","ticks":false,"labelPadding":9,"title":"DLTS signal (pF)","titleX":-75,"titleY":186,"titleAngle":-90,"titleAlign":"center","titleBaseline":"alphabetic"}},
    "strokeDash":{"field":"s","type":"nominal","scale":{"domain":["15min@250°C","285min@250°C","765min@250°C","3165min@250°C"],"range":[[1,0],[7,4],[1.5,3],[8,3,2,3]]},
     "legend":{"title":"sample C","orient":"none","legendX":178,"legendY":82,"symbolType":"M-2,0H2","symbolSize":400,"symbolOffset":10,"symbolStrokeWidth":1.5,"symbolStrokeColor":"black","symbolFillColor":"transparent","labelFontSize":17,"labelFont":"Liberation Sans","labelColor":"black","titleFontSize":17,"titleFont":"Liberation Sans","titleFontWeight":"normal","titleColor":"black","rowPadding":6,"titlePadding":5,"labelOffset":15,"padding":0}}
   }},
  {"data":{"name":"ann"},"transform":[{"filter":"datum.p=='c'"}],"mark":{"type":"text","font":"Liberation Sans","fontSize":18.5,"color":"black","align":"center","baseline":"middle"},
   "encoding":{"x":{"field":"T","type":"quantitative","scale":{"domain":[70,240],"nice":false,"zero":false},"axis":{"orient":"bottom","values":[80,100,120,140,160,180,200,220],"labels":false,"tickSize":-6,"title":null}},
    "y":{"field":"S","type":"quantitative","scale":{"domain":[0,0.225],"nice":false,"zero":false},"axis":{"orient":"left","values":[0.05,0.1,0.15,0.2],"labels":false,"tickSize":-6,"title":null}},
    "text":{"field":"label"}}},
  {"data":{"name":"arr"},"transform":[{"filter":"datum.p=='c'"}],"mark":{"type":"rule","color":"black","strokeWidth":1.2},
   "encoding":{"x":{"field":"T","type":"quantitative","scale":{"domain":[70,240],"nice":false,"zero":false},"axis":{"orient":"top","values":[80,100,120,140,160,180,200,220],"labels":false,"tickSize":-6,"title":null}},
    "y":{"field":"S","type":"quantitative","scale":{"domain":[0,0.225],"nice":false,"zero":false},"axis":{"orient":"right","values":[0.05,0.1,0.15,0.2],"labels":false,"tickSize":-6,"title":null}},
    "x2":{"field":"T2"},"y2":{"field":"S2"}}},
  {"data":{"name":"arr"},"transform":[{"filter":"datum.p=='c' && datum.T2 > datum.T"}],"mark":{"type":"point","shape":"M0,0L0.6,2L-0.6,2Z","filled":true,"color":"black","opacity":1,"size":50,"angle":140},
   "encoding":{"x":{"field":"T2","type":"quantitative","scale":{"domain":[70,240],"nice":false,"zero":false},"axis":{"orient":"bottom","values":[90,110,130,150,170,190,210,230],"labels":false,"tickSize":-4,"title":null}},
    "y":{"field":"S2","type":"quantitative","scale":{"domain":[0,0.225],"nice":false,"zero":false},"axis":{"orient":"left","values":[0.025,0.075,0.125,0.175],"labels":false,"tickSize":-4,"title":null}}}},
  {"data":{"name":"arr"},"transform":[{"filter":"datum.p=='c' && datum.T2 < datum.T"}],"mark":{"type":"point","shape":"M0,0L0.6,2L-0.6,2Z","filled":true,"color":"black","opacity":1,"size":50,"angle":219},
   "encoding":{"x":{"field":"T2","type":"quantitative","scale":{"domain":[70,240],"nice":false,"zero":false},"axis":{"orient":"top","values":[90,110,130,150,170,190,210,230],"labels":false,"tickSize":-4,"title":null}},
    "y":{"field":"S2","type":"quantitative","scale":{"domain":[0,0.225],"nice":false,"zero":false},"axis":{"orient":"right","values":[0.025,0.075,0.125,0.175],"labels":false,"tickSize":-4,"title":null}}}}
 ],
 "resolve":{"axis":{"x":"independent","y":"independent"}}
}
],
"resolve":{"scale":{"strokeDash":"independent"},"legend":{"strokeDash":"independent"}},
"config":{
 "view":{"stroke":"black","strokeWidth":1.6},
 "axis":{"domain":false,"grid":false,"tickColor":"black","tickWidth":1.3,"labelColor":"black","labelFont":"Liberation Sans","labelFontSize":16,"titleFont":"Liberation Sans","titleFontSize":18.5,"titleFontWeight":"normal","titleColor":"black","labelFlush":false,"labelOverlap":false,"labelBound":false},
 "text":{"font":"Liberation Sans"}
}
}
